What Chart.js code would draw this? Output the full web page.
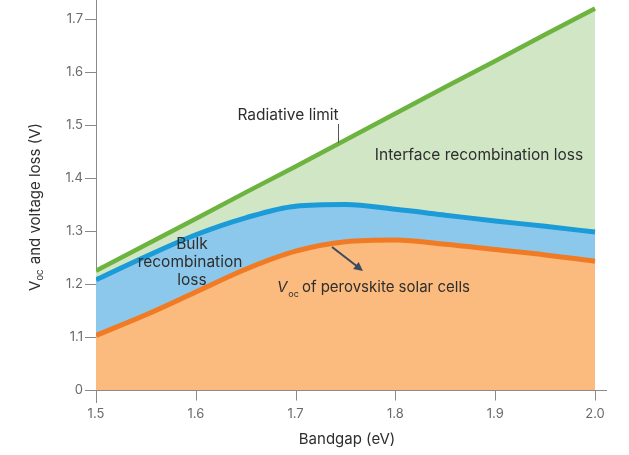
<!DOCTYPE html>
<html>
<head>
<meta charset="utf-8">
<script src="https://cdn.jsdelivr.net/npm/chart.js@4/dist/chart.umd.min.js"></script>
<style>
  html, body { margin: 0; padding: 0; background: #fff; }
  #c { display: block; }
</style>
</head>
<body>
<canvas id="c" width="629" height="455"></canvas>
<script>
// ---- data ----
const bandgap   = [1.5, 1.55, 1.6, 1.65, 1.7, 1.75, 1.8, 1.85, 1.9, 1.95, 2.0];
const radiative = [1.225, 1.274, 1.323, 1.373, 1.422, 1.472, 1.522, 1.572, 1.621, 1.671, 1.72];
const bulkTop   = [1.208, 1.252, 1.293, 1.325, 1.347, 1.350, 1.341, 1.330, 1.319, 1.309, 1.298];
const vocCells  = [1.103, 1.142, 1.185, 1.228, 1.262, 1.280, 1.283, 1.275, 1.265, 1.255, 1.243];
const xTicks      = [1.5, 1.6, 1.7, 1.8, 1.9, 2.0];
const xTickLabels = ['1.5', '1.6', '1.7', '1.8', '1.9', '2.0'];
const yTicks      = [1.0, 1.1, 1.2, 1.3, 1.4, 1.5, 1.6, 1.7];
const yTickLabels = ['0', '1.1', '1.2', '1.3', '1.4', '1.5', '1.6', '1.7'];

const toPts = ys => bandgap.map((x, i) => ({ x, y: ys[i] }));
const FONT = 'Inter, "Noto Sans", sans-serif';
const TEXT = '#2e2e2e';
const AXIS = '#8a8a8a';
const TICKTXT = '#6a6a6a';
const ANN = 15.5;

const overlay = {
  id: 'overlay',
  afterDraw(chart) {
    const { ctx, scales: { x, y } } = chart;
    const X = v => x.getPixelForValue(v), Y = v => y.getPixelForValue(v);
    ctx.save();
    // x axis line at the "0" level and its ticks
    ctx.strokeStyle = AXIS; ctx.lineWidth = 1;
    ctx.beginPath();
    const y0 = Math.round(Y(1.0)) + 0.5;
    ctx.moveTo(X(1.5), y0);
    ctx.lineTo(chart.chartArea.right, y0);
    xTicks.forEach(v => {
      const px = Math.round(X(v)) + 0.5;
      ctx.moveTo(px, y0);
      ctx.lineTo(px, y0 + 10);
    });
    ctx.stroke();

    // annotations
    ctx.fillStyle = TEXT;
    ctx.font = ANN + 'px ' + FONT;
    ctx.textBaseline = 'middle';
    ctx.textAlign = 'center';
    ctx.fillText('Radiative limit', 288, 115);
    ctx.fillText('Interface recombination loss', 479, 155);
    ctx.fillText('Bulk', 192, 244);
    ctx.fillText('recombination', 190, 262);
    ctx.fillText('loss', 192, 280);

    // leader line for radiative limit
    ctx.strokeStyle = '#555'; ctx.lineWidth = 1;
    ctx.beginPath();
    ctx.moveTo(338.5, 124); ctx.lineTo(338.5, 143);
    ctx.stroke();

    // V_oc of perovskite solar cells
    ctx.textAlign = 'left';
    let cx = 277;
    ctx.font = 'italic 15px ' + FONT;
    ctx.fillText('V', cx, 287);
    cx += ctx.measureText('V').width + 1;
    ctx.font = '9px ' + FONT;
    ctx.fillText('oc', cx, 294);
    cx += ctx.measureText('oc').width + 3;
    ctx.font = '15px ' + FONT;
    ctx.fillText('of perovskite solar cells', cx, 287);

    // arrow
    const ax0 = 332, ay0 = 247, ax1 = 363, ay1 = 271;
    ctx.strokeStyle = '#3b4a5e'; ctx.fillStyle = '#3b4a5e'; ctx.lineWidth = 2;
    const ang = Math.atan2(ay1 - ay0, ax1 - ax0);
    ctx.beginPath();
    ctx.moveTo(ax0, ay0);
    ctx.lineTo(ax1 - 6 * Math.cos(ang), ay1 - 6 * Math.sin(ang));
    ctx.stroke();
    ctx.beginPath();
    ctx.moveTo(ax1, ay1);
    ctx.lineTo(ax1 - 9 * Math.cos(ang) + 4.5 * Math.sin(ang), ay1 - 9 * Math.sin(ang) - 4.5 * Math.cos(ang));
    ctx.lineTo(ax1 - 9 * Math.cos(ang) - 4.5 * Math.sin(ang), ay1 - 9 * Math.sin(ang) + 4.5 * Math.cos(ang));
    ctx.closePath();
    ctx.fill();

    // axis titles
    ctx.fillStyle = TEXT;
    ctx.textAlign = 'center';
    ctx.font = '15px ' + FONT;
    ctx.fillText('Bandgap (eV)', 347, 439);

    ctx.translate(35, 207);
    ctx.rotate(-Math.PI / 2);
    ctx.font = '15px ' + FONT;
    const p1 = 'V', p3 = ' and voltage loss (V)';
    const w1 = ctx.measureText(p1).width;
    const w3 = ctx.measureText(p3).width;
    ctx.font = '9.5px ' + FONT;
    const w2 = ctx.measureText('oc').width + 1;
    let sx = -(w1 + w2 + w3) / 2;
    ctx.textAlign = 'left';
    ctx.font = '15px ' + FONT;
    ctx.fillText(p1, sx, 0); sx += w1;
    ctx.font = '9.5px ' + FONT;
    ctx.fillText('oc', sx, 5); sx += w2;
    ctx.font = '15px ' + FONT;
    ctx.fillText(p3, sx, 0);
    ctx.restore();
  }
};

new Chart(document.getElementById('c'), {
  type: 'line',
  data: {
    datasets: [
      {
        label: 'Voc of perovskite solar cells',
        data: toPts(vocCells),
        borderColor: '#f07b24', backgroundColor: '#fbba7e',
        borderWidth: 5, fill: { value: 1.0 }, pointRadius: 0,
        tension: 0.4, cubicInterpolationMode: 'monotone', borderCapStyle: 'butt'
      },
      {
        label: 'Bulk recombination loss',
        data: toPts(bulkTop),
        borderColor: '#1b9bd7', backgroundColor: '#8cc8ec',
        borderWidth: 5, fill: { value: 1.0 }, pointRadius: 0,
        tension: 0.4, cubicInterpolationMode: 'monotone', borderCapStyle: 'butt'
      },
      {
        label: 'Radiative limit',
        data: toPts(radiative),
        borderColor: '#6cb33f', backgroundColor: '#d0e6c5',
        borderWidth: 4.5, fill: { value: 1.0 }, pointRadius: 0,
        tension: 0, borderCapStyle: 'butt'
      }
    ]
  },
  options: {
    responsive: false,
    animation: false,
    events: [],
    layout: { padding: { left: 0, right: 22, top: 0, bottom: 0 } },
    plugins: { legend: { display: false }, tooltip: { enabled: false } },
    scales: {
      x: {
        type: 'linear', min: 1.5, max: 2.012,
        afterBuildTicks: s => { s.ticks = xTicks.map(v => ({ value: v })); },
        afterFit: s => { s.height = 53; s.paddingLeft = 0; s.paddingRight = 0; },
        grid: { display: false, drawTicks: false },
        border: { display: false },
        ticks: {
          padding: 4, color: TICKTXT, font: { family: FONT, size: 13 },
          maxRotation: 0,
          callback: v => xTickLabels[xTicks.findIndex(t => Math.abs(t - v) < 1e-6)]
        }
      },
      y: {
        type: 'linear', min: 0.9774, max: 1.736,
        afterBuildTicks: s => { s.ticks = yTicks.map(v => ({ value: v })); },
        afterFit: s => { s.width = 96; s.paddingTop = 0; s.paddingBottom = 0; },
        grid: { display: true, drawOnChartArea: false, drawTicks: true, tickLength: 11, color: AXIS, lineWidth: 1 },
        border: { display: true, color: AXIS, width: 1 },
        ticks: {
          padding: 2, color: TICKTXT, font: { family: FONT, size: 13 },
          callback: v => yTickLabels[yTicks.findIndex(t => Math.abs(t - v) < 1e-6)]
        }
      }
    }
  },
  plugins: [overlay]
});
</script>
</body>
</html>
